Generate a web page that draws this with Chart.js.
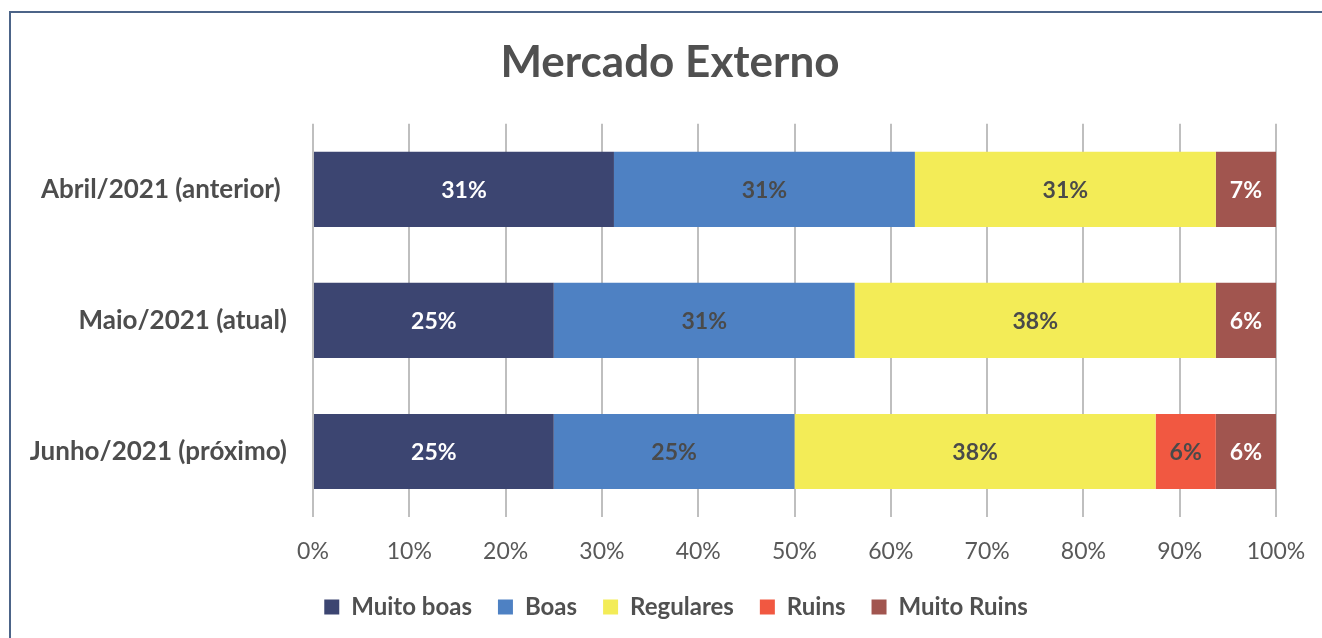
<!DOCTYPE html>
<html>
<head>
<meta charset="utf-8">
<script src="https://cdn.jsdelivr.net/npm/chart.js@4/dist/chart.umd.min.js"></script>
<style>
  html, body { margin: 0; padding: 0; background: #fff; overflow: hidden; }
  #wrap { position: relative; width: 1322px; height: 638px; }
  #frame { position: absolute; left: 9px; top: 11px; width: 1400px; height: 700px;
           border-top: 2px solid #4c6488; border-left: 2px solid #4c6488; }
  canvas { position: absolute; left: 0; top: 0; }
</style>
</head>
<body>
<div id="wrap">
  <div id="frame"></div>
  <canvas id="chart" width="1322" height="638"></canvas>
</div>
<script>
const categories = ['Abril/2021 (anterior) ', 'Maio/2021 (atual)', 'Junho/2021 (próximo)'];
const seriesNames = ['Muito boas', 'Boas', 'Regulares', 'Ruins', 'Muito Ruins'];
const muitoBoas = [31.25, 25, 25];
const boas = [31.25, 31.25, 25];
const regulares = [31.25, 37.5, 37.5];
const ruins = [0, 0, 6.25];
const muitoRuins = [6.25, 6.25, 6.25];
// labels as shown on the original (Excel rounding)
const muitoRuinsTxt = ['7%', '6%', '6%'];
const tickLabels = ['0%', '10%', '20%', '30%', '40%', '50%', '60%', '70%', '80%', '90%', '100%'];

const colors = ['#3c4571', '#4e81c3', '#f3ec57', '#f15841', '#a1554f'];
const labelColors = ['#ffffff', '#4a4a4a', '#4a4a4a', '#4a4a4a', '#ffffff'];
const FONT = 'Lato, "Open Sans", sans-serif';

// draws the percentage inside each segment
const barLabels = {
  id: 'barLabels',
  afterDatasetsDraw(chart) {
    const ctx = chart.ctx;
    ctx.save();
    ctx.font = 'bold 23px ' + FONT;
    ctx.textAlign = 'center';
    ctx.textBaseline = 'middle';
    chart.data.datasets.forEach((ds, i) => {
      const meta = chart.getDatasetMeta(i);
      meta.data.forEach((bar, j) => {
        const v = ds.data[j];
        if (!v) return;
        const txt = ds.txt ? ds.txt[j] : Math.round(v) + '%';
        const x = (bar.x + bar.base) / 2;
        ctx.fillStyle = labelColors[i];
        ctx.fillText(txt, x, bar.y + 1);
      });
    });
    ctx.restore();
  }
};

// the title and legend sit a bit right of the canvas centre in the original
const shiftBlocks = {
  id: 'shiftBlocks',
  afterLayout(chart) {
    if (chart.titleBlock) { chart.titleBlock.left += 22; chart.titleBlock.right += 22; }
    if (chart.legend) { chart.legend.left += 28; chart.legend.right += 28; }
  }
};

const allValues = [muitoBoas, boas, regulares, ruins, muitoRuins];
const datasets = allValues.map((vals, i) => ({
  label: seriesNames[i],
  data: vals,
  backgroundColor: colors[i],
  borderWidth: 0,
  barPercentage: 0.573,
  categoryPercentage: 1.0,
  txt: i === 4 ? muitoRuinsTxt : null
}));

new Chart(document.getElementById('chart'), {
  type: 'bar',
  data: { labels: categories, datasets: datasets },
  plugins: [barLabels, shiftBlocks],
  options: {
    indexAxis: 'y',
    responsive: false,
    animation: false,
    layout: { padding: { left: 20, right: 46, top: 0, bottom: 9 } },
    plugins: {
      title: {
        display: true,
        text: 'Mercado Externo',
        color: '#505050',
        font: { family: FONT, size: 44, weight: 'bold' },
        padding: { top: 36, bottom: 35 }
      },
      legend: {
        position: 'bottom',
        labels: {
          color: '#505050',
          font: { family: FONT, size: 24, weight: 'bold' },
          boxWidth: 15,
          boxHeight: 15,
          padding: 26
        }
      },
      tooltip: { enabled: false }
    },
    scales: {
      x: {
        stacked: true,
        min: 0,
        max: 100,
        grid: { color: '#bfbfbf', lineWidth: 2, drawTicks: false },
        border: { display: false },
        afterFit: (scale) => {
          scale.height = 52;
          scale.paddingRight = 0;
          scale.paddingLeft = 0;
        },
        ticks: {
          stepSize: 10,
          color: '#595959',
          padding: 21,
          font: { family: FONT, size: 23 },
          callback: (v, idx) => tickLabels[idx]
        }
      },
      y: {
        stacked: true,
        grid: { display: false, drawTicks: false },
        border: { display: false },
        afterFit: (scale) => { scale.width = 293; },
        ticks: {
          color: '#4d4d4d',
          padding: 26,
          font: { family: FONT, size: 26, weight: 'bold' }
        }
      }
    }
  }
});
</script>
</body>
</html>
